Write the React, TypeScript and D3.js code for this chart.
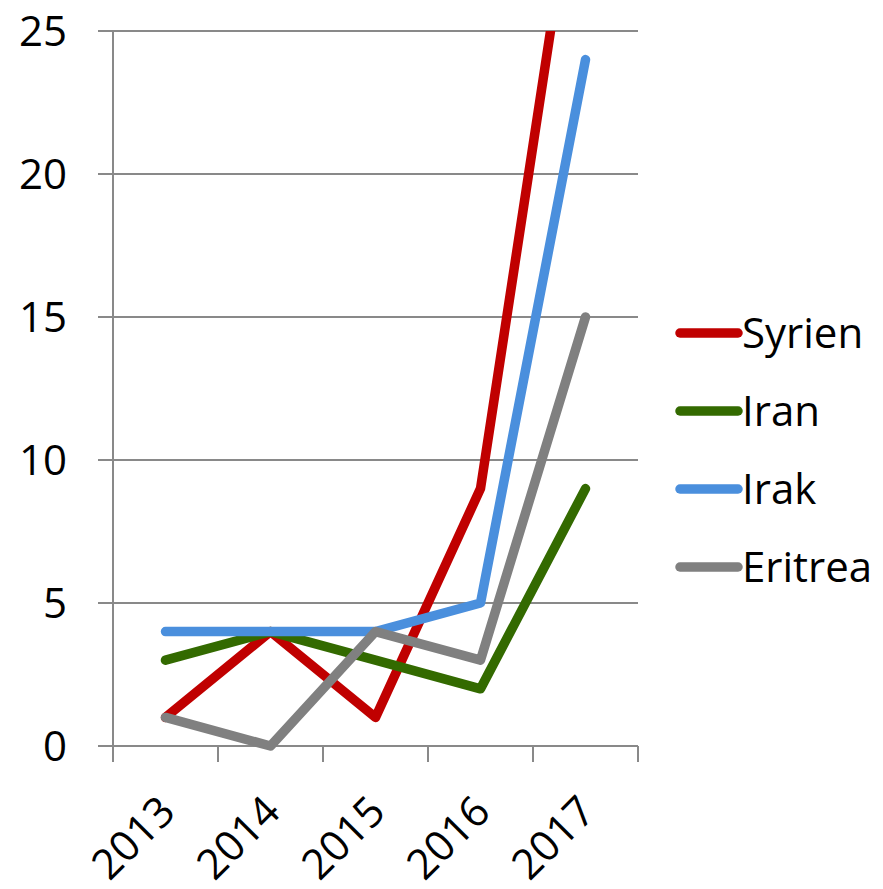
import * as d3 from 'd3'

const years = ['2013', '2014', '2015', '2016', '2017']
const yTicks = [0, 5, 10, 15, 20, 25]

const seriesNames = ['Syrien', 'Iran', 'Irak', 'Eritrea']
const syrien = [1, 4, 1, 9, 33]
const iran = [3, 4, 3, 2, 9]
const irak = [4, 4, 4, 5, 24]
const eritrea = [1, 0, 4, 3, 15]

const COLORS = ['#C00000', '#336A00', '#4A8FDD', '#808080']
const GRID = '#898989'
const FONT = '"Open Sans", "Noto Sans", sans-serif'
const FS = 42

const W = 883
const H = 889
const M = { top: 31, right: 245, bottom: 143, left: 113 }

export default function App() {
  const series = [syrien, iran, irak, eritrea]

  const x = d3.scaleBand<string>()
    .domain(years)
    .range([M.left, W - M.right])

  const y = d3.scaleLinear()
    .domain([0, 25])
    .range([H - M.bottom, M.top])

  const line = d3.line<number>()
    .x((_d, i) => x(years[i])! + x.bandwidth() / 2)
    .y(d => y(d))

  const x0 = M.left
  const x1 = W - M.right
  const y0 = y(0)

  // legend rows
  const legY = d3.scalePoint<string>().domain(seriesNames).range([333, 567])

  return (
    <svg width={W} height={H} style={{ position: 'absolute', left: 0, top: 0, background: '#fff' }}>
      <defs>
        <clipPath id="plot-clip">
          <rect x={0} y={M.top} width={W} height={H} />
        </clipPath>
      </defs>

      {/* gridlines + y ticks */}
      {yTicks.map(t => (
        <g key={t}>
          <line x1={x0 - 15} x2={x1} y1={y(t)} y2={y(t)} stroke={GRID} strokeWidth={2} />
          <text x={67} y={y(t)} dy="0.36em" textAnchor="end" fontFamily={FONT} fontSize={FS} fill="#000">
            {t}
          </text>
        </g>
      ))}

      {/* y axis */}
      <line x1={x0} x2={x0} y1={M.top} y2={y0 + 16} stroke={GRID} strokeWidth={2} />

      {/* x ticks at category boundaries */}
      {[...years.map(yr => x(yr)!), x1].map((px, i) => (
        <line key={i} x1={px} x2={px} y1={y0} y2={y0 + 16} stroke={GRID} strokeWidth={2} />
      ))}

      {/* x labels */}
      {years.map(yr => {
        const cx = x(yr)! + x.bandwidth() / 2 + 12
        const cy = y0 + 68
        return (
          <text key={yr} x={cx} y={cy} transform={`rotate(-45 ${cx} ${cy})`}
            textAnchor="end" fontFamily={FONT} fontSize={FS} fill="#000">
            {yr}
          </text>
        )
      })}

      {/* series */}
      <g clipPath="url(#plot-clip)">
        {series.map((s, i) => (
          <path key={seriesNames[i]} d={line(s)!} fill="none" stroke={COLORS[i]} strokeWidth={9.5}
            strokeLinejoin="round" strokeLinecap="round" />
        ))}
      </g>

      {/* legend */}
      {seriesNames.map((name, i) => (
        <g key={name}>
          <line x1={680} x2={738} y1={legY(name)} y2={legY(name)} stroke={COLORS[i]} strokeWidth={9.5}
            strokeLinecap="round" />
          <text x={742} y={legY(name)} dy="0.36em" fontFamily={FONT} fontSize={FS} fill="#000">
            {name}
          </text>
        </g>
      ))}
    </svg>
  )
}
